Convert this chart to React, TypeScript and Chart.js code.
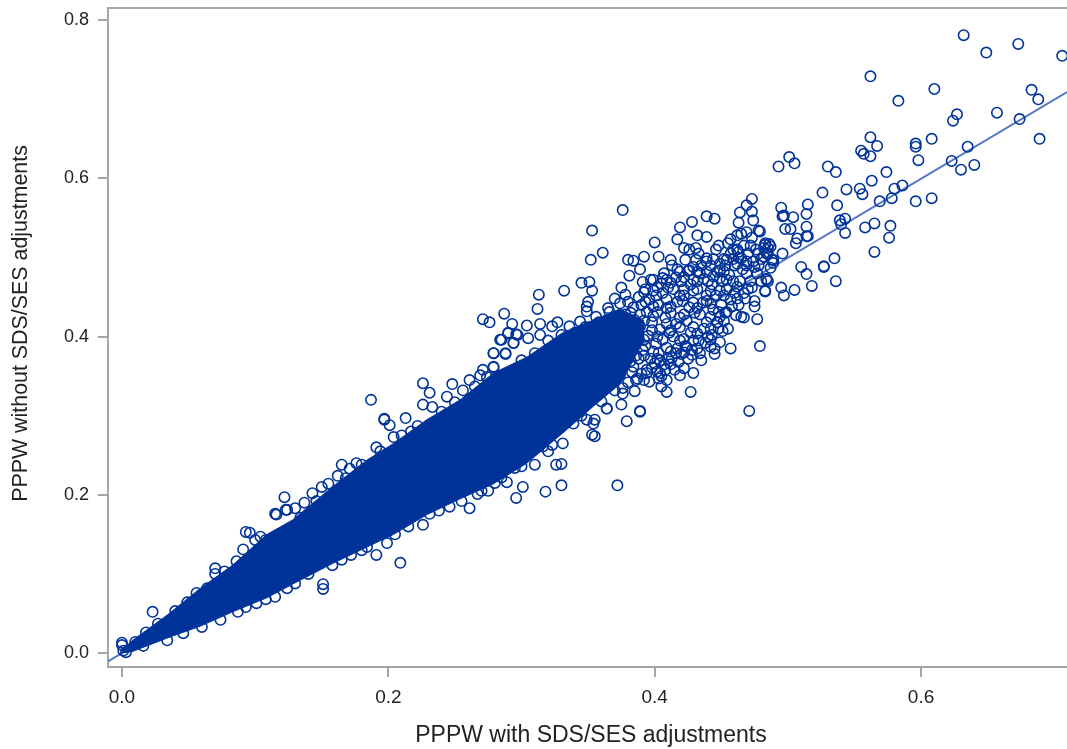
import React, { useEffect, useRef } from "react";
import { Chart, registerables } from "chart.js";

Chart.register(...registerables);

const xTitle = "PPPW with SDS/SES adjustments";
const yTitle = "PPPW without SDS/SES adjustments";
const xTicks = [0, 0.2, 0.4, 0.6];
const yTicks = [0, 0.2, 0.4, 0.6, 0.8];

// Values, as [x, y] pairs.
const farTail = [
  [.632,.781],[.649,.759],[.673,.770],[.706,.755],[.562,.729],[.583,.698],[.610,.713],[.683,.712],[.688,.700],[.627,.681],
  [.624,.673],[.657,.683],[.674,.675],[.689,.650],[.608,.650],[.596,.644],[.596,.640],[.598,.623],[.635,.640],[.623,.622],
  [.630,.611],[.640,.617],[.562,.652],[.567,.641],[.555,.635],[.557,.631],[.562,.628],[.501,.627],[.505,.619],[.493,.615],
  [.530,.615],[.536,.608],[.574,.608],[.563,.597],[.526,.582],[.544,.586],[.554,.587],[.556,.580],[.580,.587],[.586,.591],
  [.569,.571],[.578,.575],[.596,.571],[.608,.575],[.537,.566],[.515,.567],[.514,.555],[.495,.563],[.496,.552],[.497,.553],
  [.504,.551],[.543,.549],[.539,.547],[.540,.542],[.543,.531],[.558,.538],[.565,.543],[.577,.540],[.576,.525],[.565,.507],
  [.514,.539],[.515,.527],[.514,.527],[.507,.524],[.506,.518],[.498,.536],[.502,.536],[.496,.505],[.479,.533],[.483,.516],
  [.482,.512],[.487,.514],[.485,.505],[.488,.497],[.489,.493],[.510,.488],[.514,.479],[.527,.489],[.527,.488],[.535,.499],
  [.536,.470],[.518,.464],[.495,.462],[.505,.459],[.497,.452],[.483,.457],[.484,.472],
];

const tailOutliers = [
  [.376,.560],[.353,.534],[.361,.506],[.352,.497],[.345,.468],[.351,.469],[.332,.458],[.313,.453],[.312,.435],[.353,.458],
  [.350,.444],[.349,.438],[.349,.432],[.287,.429],[.271,.422],[.276,.418],[.293,.416],[.304,.414],[.314,.416],[.327,.418],
  [.323,.413],[.290,.404],[.296,.403],[.284,.396],[.294,.392],[.288,.378],[.279,.379],[.279,.361],[.400,.519],[.419,.538],
  [.428,.545],[.439,.552],[.445,.549],[.473,.574],[.469,.566],[.464,.557],[.473,.558],[.463,.544],[.474,.547],[.478,.534],
  [.469,.532],[.417,.523],[.432,.528],[.439,.526],[.457,.523],[.462,.528],[.448,.515],[.422,.512],[.426,.510],[.431,.512],
  [.392,.501],[.403,.501],[.412,.497],[.380,.497],[.384,.496],[.389,.485],[.381,.477],[.417,.485],[.426,.484],[.483,.518],
  [.485,.512],[.489,.497],[.482,.501],[.463,.507],[.465,.499],[.454,.497],[.431,.497],[.439,.499],[.449,.484],[.475,.488],
  [.469,.490],[.434,.480],[.444,.476],[.454,.472],[.484,.473],[.483,.458],[.475,.438],[.477,.422],[.467,.424],[.461,.427],
  [.454,.431],[.448,.431],[.447,.418],[.451,.407],[.442,.410],[.449,.393],[.442,.387],[.457,.385],[.445,.378],[.434,.379],
  [.428,.377],[.479,.388],[.471,.306],[.427,.330],[.409,.330],[.405,.337],[.429,.354],[.419,.351],[.422,.360],[.403,.347],
  [.404,.354],[.389,.306],[.379,.293],[.355,.274],[.354,.290],[.375,.314],[.364,.309],[.349,.295],[.372,.212],[.330,.212],
  [.318,.204],[.330,.239],[.326,.238],
];

const tailCluster = [
  [.364,.340],[.366,.355],[.363,.371],[.367,.386],[.365,.401],[.362,.416],[.366,.431],
  [.376,.335],[.374,.352],[.377,.366],[.373,.381],[.376,.397],[.375,.411],[.378,.428],[.374,.442],
  [.385,.331],[.387,.347],[.384,.362],[.386,.376],[.383,.391],[.387,.407],[.385,.421],[.384,.437],[.388,.450],
  [.396,.343],[.394,.358],[.397,.372],[.393,.388],[.395,.401],[.398,.418],[.394,.431],[.396,.447],[.393,.460],[.397,.472],
  [.405,.350],[.407,.365],[.403,.379],[.406,.396],[.404,.409],[.408,.424],[.403,.440],[.406,.455],[.405,.467],[.407,.480],
  [.415,.358],[.413,.373],[.417,.385],[.414,.400],[.416,.416],[.412,.430],[.417,.444],[.414,.460],[.416,.475],[.413,.490],
  [.425,.372],[.423,.388],[.427,.405],[.424,.420],[.426,.437],[.422,.452],[.427,.466],[.425,.483],[.423,.497],
  [.435,.370],[.433,.395],[.437,.410],[.434,.428],[.436,.443],[.432,.460],[.437,.473],[.435,.490],[.433,.505],
  [.445,.385],[.443,.402],[.447,.418],[.444,.434],[.446,.452],[.443,.466],[.447,.482],[.444,.498],[.446,.510],
  [.455,.410],[.453,.430],[.457,.447],[.454,.460],[.456,.478],[.453,.490],[.457,.505],[.455,.518],
  [.465,.425],[.463,.440],[.467,.455],[.464,.470],[.466,.485],[.463,.500],[.467,.515],[.465,.530],
  [.475,.445],[.473,.462],[.477,.480],[.474,.495],[.476,.510],[.473,.525],
  [.485,.470],[.487,.487],[.484,.505],[.486,.517],
  [.380,.342],[.382,.369],[.379,.399],[.381,.414],[.380,.444],[.390,.353],[.391,.383],[.389,.413],[.390,.440],[.392,.456],
  [.400,.366],[.401,.391],[.399,.426],[.401,.452],[.410,.372],[.411,.405],[.409,.436],[.410,.462],[.420,.378],[.419,.412],
  [.421,.445],[.420,.470],[.429,.395],[.430,.430],[.429,.458],[.440,.400],[.439,.445],[.440,.470],[.450,.440],[.451,.470],
  [.460,.455],[.460,.490],[.470,.460],[.470,.505],[.480,.470],[.480,.498],
  [.383,.355],[.388,.372],[.382,.384],[.388,.398],[.382,.405],[.389,.428],[.382,.430],[.392,.345],[.398,.361],[.392,.376],
  [.399,.381],[.392,.396],[.398,.408],[.392,.420],[.399,.438],[.393,.444],[.399,.458],[.402,.356],[.408,.358],[.402,.372],
  [.409,.386],[.402,.400],[.409,.416],[.402,.431],[.409,.447],[.402,.462],[.409,.472],[.412,.365],[.418,.368],[.412,.381],
  [.419,.395],[.412,.408],[.419,.424],[.412,.438],[.419,.452],[.412,.468],[.419,.482],[.422,.380],[.428,.383],[.422,.397],
  [.429,.412],[.422,.428],[.429,.443],[.422,.460],[.429,.472],[.422,.475],[.429,.488],[.432,.385],[.438,.392],[.432,.404],
  [.439,.418],[.432,.436],[.439,.452],[.432,.470],[.439,.482],[.432,.482],[.439,.495],[.442,.396],[.448,.410],[.442,.425],
  [.449,.425],[.442,.442],[.449,.458],[.442,.458],[.449,.474],[.442,.490],[.449,.492],[.452,.420],[.458,.438],[.452,.452],
  [.459,.470],[.452,.482],[.459,.498],[.452,.498],[.459,.510],[.462,.448],[.468,.448],[.462,.463],[.469,.480],[.462,.492],
  [.469,.495],[.462,.510],[.472,.470],[.478,.490],[.472,.515],[.478,.505],
];

const upperEdge = [
  [.187,.320],[.197,.295],[.201,.288],[.226,.341],[.231,.329],[.248,.340],[.197,.296],[.213,.297],[.204,.273],[.191,.260],
  [.165,.238],[.171,.233],[.162,.224],[.155,.214],[.143,.202],[.122,.197],[.115,.176],[.124,.181],[.130,.183],[.137,.190],
  [.104,.147],[.096,.152],[.279,.379],[.288,.379],[.285,.396],[.294,.392],[.290,.405],[.297,.402],[.305,.398],[.314,.402],
  [.271,.358],[.279,.362],[.261,.345],[.269,.351],[.233,.311],[.226,.314],[.244,.324],[.256,.332],[.023,.052],[.000,.013],
  [.000,.010],[.070,.107],[.070,.100],[.091,.131],[.093,.153],[.100,.143],[.116,.175],[.123,.181],[.056,.076],[.049,.064],
  [.064,.082],[.370,.448],[.375,.462],[.391,.469],[.399,.472],[.406,.474],[.378,.453],[.365,.436],[.356,.425],[.344,.419],
  [.336,.413],[.150,.210],[.176,.240],[.210,.275],[.240,.305],[.320,.395],[.330,.402],
  [.010,.014],[.018,.026],[.027,.037],[.040,.053],[.077,.103],[.086,.116],[.108,.143],[.134,.171],[.146,.192],[.168,.221],
  [.180,.238],[.194,.255],[.217,.280],[.222,.287],[.250,.317],[.265,.337],[.274,.349],[.300,.370],[.310,.379],[.325,.388],
  [.340,.405],[.348,.412],[.358,.418],
];

const lowerEdge = [
  [.301,.210],[.296,.196],[.261,.183],[.267,.201],[.275,.205],[.289,.216],[.310,.238],[.295,.234],[.246,.185],[.226,.162],
  [.199,.139],[.191,.124],[.209,.114],[.184,.134],[.151,.081],[.151,.087],[.353,.276],[.389,.305],[.034,.016],[.074,.042],
  [.087,.052],[.101,.063],[.115,.071],[.124,.082],[.404,.370],[.416,.379],[.424,.387],[.409,.345],[.394,.354],[.386,.345],
  [.376,.328],[.364,.309],[.355,.295],[.339,.290],[.331,.265],[.323,.263],[.316,.261],[.309,.265],[.140,.100],[.165,.118],
  [.180,.130],[.215,.160],[.238,.180],[.255,.192],[.280,.215],[.003,.001],[.001,.003],[.016,.009],[.046,.025],[.060,.033],
  [.093,.058],[.108,.068],[.130,.088],[.158,.111],[.172,.124],[.205,.150],[.231,.176],[.270,.205],[.285,.222],[.300,.236],[.320,.255],
  [.345,.300],[.360,.318],[.370,.332],
];

// Edges of the solid part of the cloud, where the circles merge completely.
const bandX = [0, .008, .034, .059, .083, .109, .128, .158, .184, .204, .229, .254, .279, .304, .331, .354, .374, .392];
const bandUpper = [.004, .016, .048, .082, .111, .150, .168, .210, .244, .265, .295, .320, .354, .374, .405, .421, .435, .420];
const bandLower = [.000, .002, .019, .034, .052, .070, .087, .113, .134, .150, .175, .195, .214, .240, .278, .312, .340, .395];

const fitX = [-0.0105, 0.7096];
const fitY = [-0.0105, 0.709];

const allPoints = [...farTail, ...tailOutliers, ...tailCluster, ...upperEdge, ...lowerEdge];

const BLUE = "#003399";
const FRAME = "#a3a6a9";
const TEXT = "#222222";
const FONT = "'Liberation Sans', Arial, sans-serif";

const frameTop = {
  id: "frameTop",
  afterDraw(chart: any) {
    const { ctx, chartArea } = chart;
    ctx.save();
    ctx.strokeStyle = FRAME;
    ctx.lineWidth = 2;
    ctx.beginPath();
    ctx.moveTo(chartArea.left - 1, chartArea.top);
    ctx.lineTo(chartArea.right, chartArea.top);
    ctx.stroke();
    ctx.restore();
  },
};

// The reference's axis titles sit slightly off the centre of the plot.
function offsetTitle(scale: any, dx: number, dy: number) {
  if (scale.__offset) return;
  scale.__offset = true;
  const draw = scale.drawTitle;
  scale.drawTitle = function () {
    const { left, right, top, bottom } = this;
    this.left = left + dx; this.right = right + dx;
    this.top = top + dy; this.bottom = bottom + dy;
    draw.call(this);
    this.left = left; this.right = right; this.top = top; this.bottom = bottom;
  };
}

export default function App() {
  const ref = useRef<HTMLCanvasElement | null>(null);
  useEffect(() => {
    const chart = new Chart(ref.current as HTMLCanvasElement, {
      type: "scatter",
      data: {
        datasets: [
          {
            label: "Observations",
            data: allPoints.map(([x, y]) => ({ x, y })),
            borderColor: BLUE,
            backgroundColor: "transparent",
            borderWidth: 1.6,
            pointRadius: 5.2,
            pointStyle: "circle",
            order: 1,
          },
          {
            label: "Identity",
            type: "line",
            data: fitX.map((x, i) => ({ x, y: fitY[i] })),
            borderColor: "#5577c4",
            borderWidth: 2,
            pointRadius: 0,
            order: 2,
          },
          {
            label: "Cloud upper",
            type: "line",
            data: bandX.map((x, i) => ({ x, y: bandUpper[i] })),
            borderColor: BLUE,
            borderWidth: 1,
            backgroundColor: BLUE,
            pointRadius: 0,
            fill: "+1",
            order: 0,
          },
          {
            label: "Cloud lower",
            type: "line",
            data: bandX.map((x, i) => ({ x, y: bandLower[i] })),
            borderColor: BLUE,
            borderWidth: 1,
            pointRadius: 0,
            order: 0,
          },
        ],
      } as any,
      options: {
        animation: false,
        responsive: false,
        layout: { autoPadding: false, padding: { top: 8, right: 0, left: 0, bottom: 0 } },
        plugins: { legend: { display: false }, tooltip: { enabled: false } },
        scales: {
          x: {
            type: "linear",
            min: -0.0105,
            max: 0.7096,
            afterBuildTicks: (s: any) => { s.ticks = xTicks.map((value) => ({ value })); },
            afterFit: (s: any) => {
              s.height = 82; s.paddingLeft = 0; s.paddingRight = 0;
              offsetTitle(s, 3.5, 0);
            },
            grid: { drawOnChartArea: false, drawTicks: true, tickLength: 10, color: FRAME, lineWidth: 2 },
            border: { color: FRAME, width: 2 },
            ticks: {
              maxRotation: 0, color: TEXT, padding: 9,
              font: { family: FONT, size: 19 },
              callback: (v: any) => Number(v).toFixed(1),
            },
            title: { display: true, text: xTitle, color: TEXT, font: { family: FONT, size: 23 }, padding: { top: 6, bottom: 0 } },
          },
          y: {
            type: "linear",
            min: -0.0177,
            max: 0.8154,
            afterBuildTicks: (s: any) => { s.ticks = yTicks.map((value) => ({ value })); },
            afterFit: (s: any) => {
              s.width = 108; s.paddingTop = 0; s.paddingBottom = 0;
              offsetTitle(s, 0, -14);
            },
            grid: { drawOnChartArea: false, drawTicks: true, tickLength: 10, color: FRAME, lineWidth: 2 },
            border: { color: FRAME, width: 2 },
            ticks: {
              color: TEXT, padding: 9,
              font: { family: FONT, size: 18 },
              callback: (v: any) => Number(v).toFixed(1),
            },
            title: { display: true, text: yTitle, color: TEXT, font: { family: FONT, size: 21.4 }, padding: { top: 8, bottom: 0 } },
          },
        },
      } as any,
      plugins: [frameTop],
    });
    return () => chart.destroy();
  }, []);
  return (
    <div style={{ position: "absolute", left: 0, top: 0, width: 1067, height: 749, background: "#fff" }}>
      <canvas ref={ref} width={1067} height={749} style={{ display: "block" }} />
    </div>
  );
}
